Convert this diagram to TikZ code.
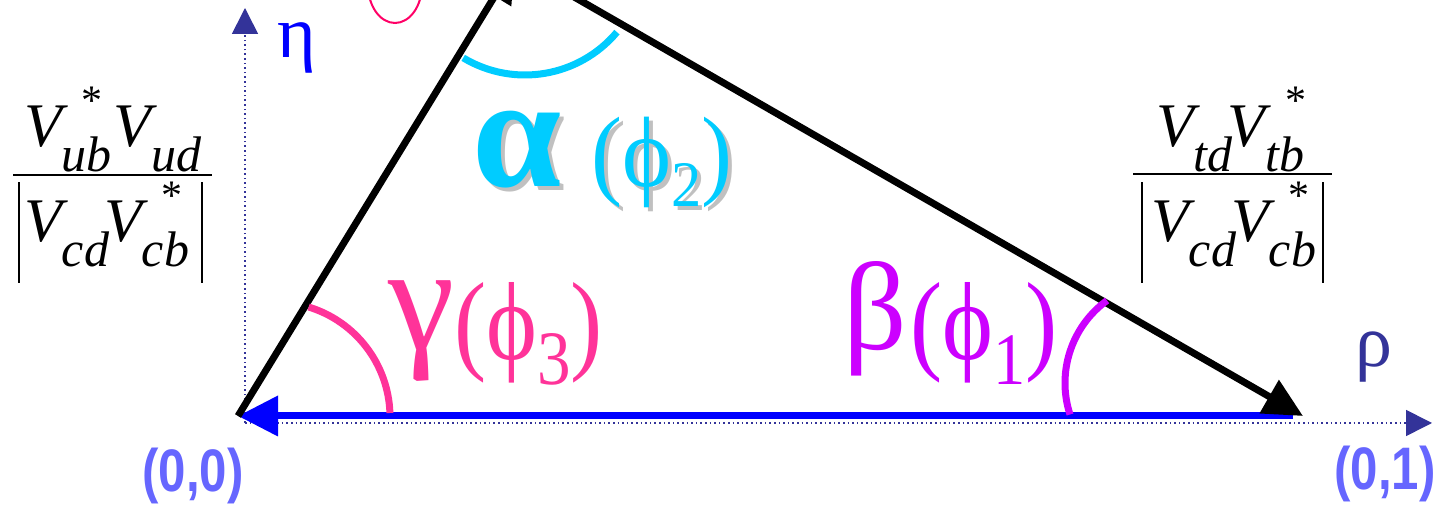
\documentclass[tikz,border=0pt]{standalone}
\usepackage{graphicx}
\usepackage{fontspec}
\setmainfont{Liberation Serif}
\newfontfamily\lblsans{Liberation Sans}
\usetikzlibrary{arrows.meta}
\definecolor{axisc}{HTML}{333399}
\definecolor{bluec}{HTML}{0000FF}
\definecolor{cyanc}{HTML}{00CCFF}
\definecolor{pinkc}{HTML}{FF3399}
\definecolor{magc}{HTML}{CC00FF}
\definecolor{redc}{HTML}{FF0066}
\definecolor{lblc}{HTML}{6666FF}
\definecolor{shadc}{HTML}{C0C0C0}
\newcommand{\fs}[1]{\fontsize{#1}{#1}\selectfont}
\newcommand{\Vsub}[1]{\raisebox{-25pt}{\fs{50}\itshape #1}}
\newcommand{\Vstar}[1][18pt]{\rlap{\kern#1\raisebox{32pt}{\fs{42}*}}}
\newcommand{\alphatext}{{\fs{160}\bfseries α}\hspace{30pt}\scalebox{0.93}[1]{\fs{100}(ϕ\raisebox{-20pt}{\fs{65}2})}}
\tikzset{
  lab/.style={anchor=base west, inner sep=0pt, outer sep=0pt},
  vec/.style={line width=7pt, -{Triangle[length=39pt,width=37pt]}},
  angarc/.style={line width=7pt},
  axisline/.style={axisc, line width=1.6pt, dash pattern=on 1.6pt off 3pt, -{Triangle[length=26pt,width=26pt]}},
  barline/.style={line width=2.5pt},
  pt/.style={anchor=base, inner sep=0pt, text=lblc, font=\lblsans\bfseries\fs{60}, xscale=0.82}
}
\begin{document}
\begin{tikzpicture}[x=1pt,y=1pt]
\useasboundingbox (0,0) rectangle (1436,505);
% coordinates
\coordinate (O) at (238,89);
\coordinate (R) at (1303,89);
\coordinate (A) at (515,542);
\coordinate (ax) at (245,82);
\coordinate (etatip) at (245,497);
\coordinate (rhotip) at (1432,82);
\coordinate (ca) at (525,550);
\coordinate (cg) at (275,88);
\coordinate (cb) at (1167,122);
% axes
\draw[axisline] (ax) -- (etatip);
\draw[axisline] (ax) -- (rhotip);
% top ellipse (cut off)
\draw[redc, line width=2pt] (395,520) ellipse[x radius=27, y radius=38];
% triangle
\draw[bluec, line width=7pt, -{Triangle[length=40pt,width=39pt]}, shorten <=10pt] (R) -- (O);
\draw[vec] (O) -- (A);
\draw[vec] (A) -- (R);
% angle arcs
\draw[angarc, cyanc] ([shift={(239:120)}]ca) arc[start angle=239, end angle=320, radius=120];
\draw[angarc, pinkc] ([shift={(73:115)}]cg) arc[start angle=73, end angle=2, radius=115];
\draw[angarc, magc] ([shift={(126:102)}]cb) arc[start angle=126, end angle=198, radius=102];
% axis labels
\node[lab, text=bluec, font=\fs{74}] (eta) at (277,447) {η};
\node[lab, text=axisc, font=\fs{74}] (rho) at (1355,138) {ρ};
\node[pt] (p00) at (193,13) {(0,0)};
\node[pt] (p01) at (1385,15) {(0,1)};
% angle labels
\node[lab, text=cyanc] (alpha) at (472,318) {\rlap{\color{shadc}\kern4pt\raisebox{-4pt}{\alphatext}}\alphatext};
\node[lab, text=pinkc] (gamma) at (388,145) {\raisebox{10pt}{\fs{150}γ}\scalebox{0.87}[1]{\fs{111}(ϕ\raisebox{-25pt}{\fs{77}3})}};
\node[lab, text=magc] (beta) at (843,145) {\raisebox{10pt}{\fs{125}β}\kern4pt\scalebox{0.87}[1]{\fs{111}(ϕ\raisebox{-25pt}{\fs{74}1})}};
% left fraction
\node[lab] (numL) at (24,358) {\fs{62}\itshape V\Vstar\Vsub{ub}\kern2pt V\Vsub{ud}};
\node[lab] (denL) at (24,263) {\fs{62}\itshape V\Vsub{cd}\kern-5pt V\Vstar\Vsub{cb}};
\draw[barline] (13,330) -- (212,330);
\draw[barline] (19,222) -- (19,323);
\draw[barline] (202,222) -- (202,323);
% right fraction
\node[lab] (numR) at (1156,358) {\fs{62}\itshape V\Vsub{td}\kern-5pt V\Vstar\Vsub{tb}};
\node[lab] (denR) at (1151,263) {\fs{62}\itshape V\Vsub{cd}\kern-5pt V\Vstar\Vsub{cb}};
\draw[barline] (1133,331) -- (1332,331);
\draw[barline] (1142,222) -- (1142,323);
\draw[barline] (1323,222) -- (1323,323);
\end{tikzpicture}
\end{document}
